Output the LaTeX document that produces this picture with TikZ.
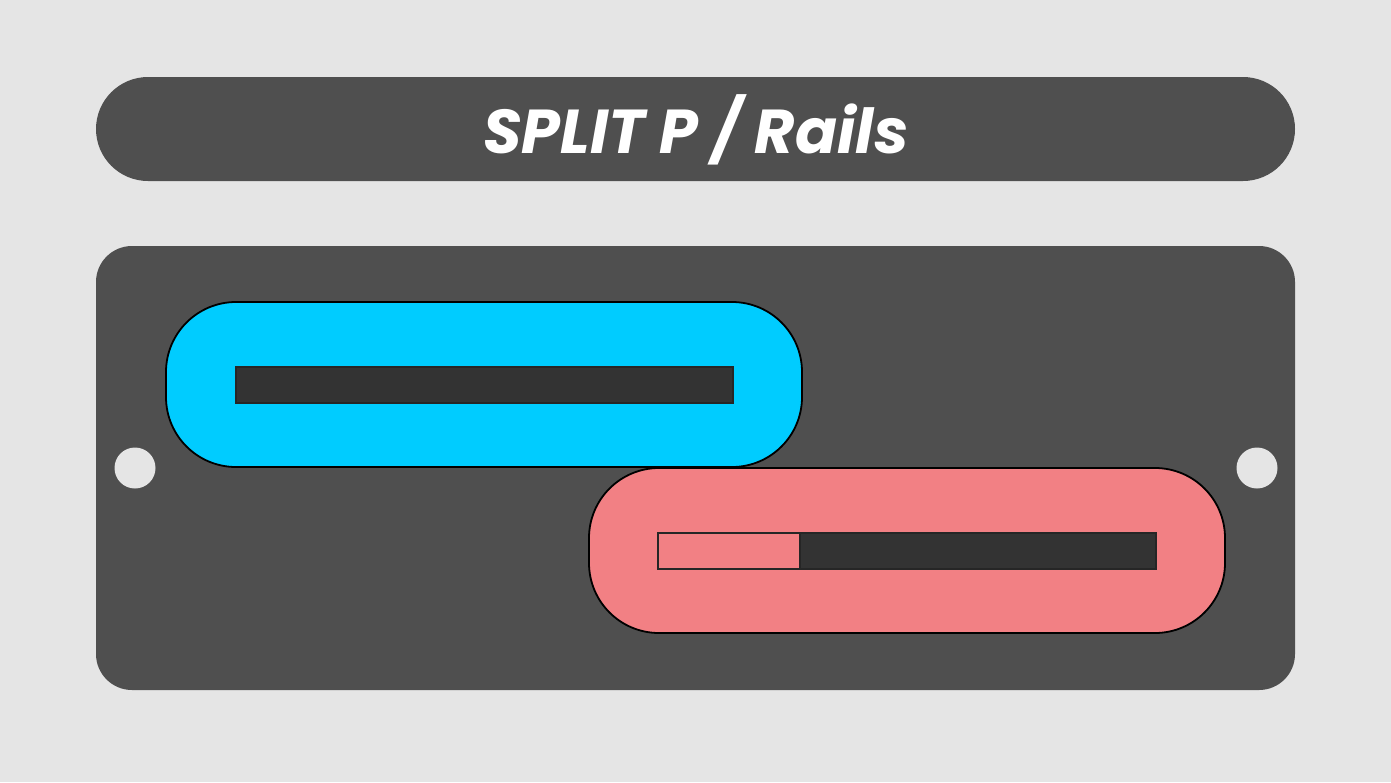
\documentclass[tikz,border=0pt]{standalone}
\usepackage{fontspec}
\setmainfont{Poppins}
\definecolor{bg}{HTML}{E5E5E5}
\definecolor{panel}{HTML}{4F4F4F}
\definecolor{slot}{HTML}{333333}
\definecolor{cyanfill}{HTML}{00CCFF}
\definecolor{pinkfill}{HTML}{F28084}
\begin{document}
\begin{tikzpicture}[x=1pt,y=-1pt,
  outline/.style={draw=black,line width=1.8pt},
  slotline/.style={draw=black!85,line width=1.5pt}]
\useasboundingbox (0,0) rectangle (1391,782);
\fill[bg] (0,0) rectangle (1391,782);
% title bar
\fill[panel,rounded corners=52pt] (96,77) rectangle (1295,181);
\node[text=white,anchor=base,inner sep=0pt,font=\fontsize{62}{68}\selectfont\bfseries\itshape] (title) at (696,153) {SPLIT P / Rails};
% main panel
\fill[panel,rounded corners=36pt] (96,246) rectangle (1295,690);
% holes
\fill[bg] (135,468) circle (20.5);
\fill[bg] (1257,468) circle (20.5);
% blue rail
\filldraw[fill=cyanfill,outline,rounded corners=70pt] (166,302) rectangle (802,467);
\filldraw[fill=slot,slotline] (236,367) rectangle (733,403);
% pink rail
\filldraw[fill=pinkfill,outline,rounded corners=70pt] (589,468) rectangle (1225,633);
\filldraw[fill=slot,slotline] (658,533) rectangle (1156,569);
\filldraw[fill=pinkfill,slotline] (658,533) rectangle (800,569);
\end{tikzpicture}
\end{document}
